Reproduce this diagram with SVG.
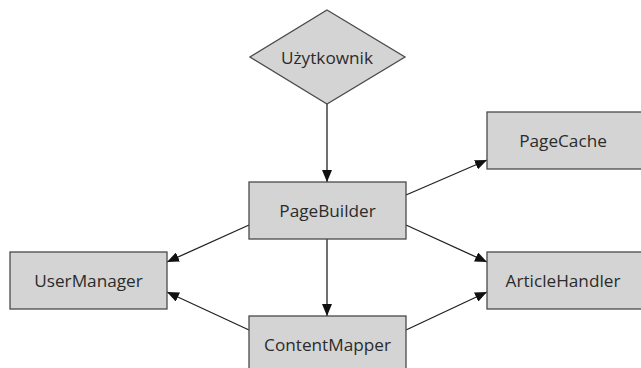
<svg xmlns="http://www.w3.org/2000/svg" width="641" height="368" viewBox="0 0 641 368">
  <style>
    .node { fill: #d4d4d4; stroke: #4a4a4a; stroke-width: 1.3; }
    .label { font-family: "Open Sans", "Noto Sans", sans-serif; font-size: 17.2px; fill: #2b2b2b; text-anchor: middle; dominant-baseline: central; }
    .edge { stroke: #222; stroke-width: 1.3; fill: none; marker-end: url(#arrow); }
  </style>
  <defs>
    <marker id="arrow" viewBox="0 0 12 10" refX="12" refY="5" markerWidth="12" markerHeight="10" markerUnits="userSpaceOnUse" orient="auto">
      <path d="M0,0 L12,5 L0,10 Z" fill="#111"/>
    </marker>
  </defs>
  <rect width="641" height="368" fill="#ffffff"/>

  <g id="edges">
    <line class="edge" x1="327" y1="104" x2="327" y2="182"/>
    <line class="edge" x1="249" y1="225" x2="167" y2="262"/>
    <line class="edge" x1="249" y1="330" x2="167" y2="292"/>
    <line class="edge" x1="327" y1="239" x2="327" y2="316"/>
    <line class="edge" x1="406" y1="195" x2="487" y2="160"/>
    <line class="edge" x1="406" y1="225" x2="487" y2="262"/>
    <line class="edge" x1="406" y1="330" x2="487" y2="292"/>
  </g>

  <g id="uzytkownik">
    <polygon class="node" points="327,10 405,57 327,104 250,57"/>
    <text class="label" x="327" y="57">Użytkownik</text>
  </g>
  <g id="pagebuilder">
    <rect class="node" x="249" y="182" width="157" height="57"/>
    <text class="label" x="327.5" y="210.5">PageBuilder</text>
  </g>
  <g id="usermanager">
    <rect class="node" x="10" y="252" width="157" height="57"/>
    <text class="label" x="88.5" y="280.5">UserManager</text>
  </g>
  <g id="contentmapper">
    <rect class="node" x="249" y="316" width="157" height="57"/>
    <text class="label" x="327.5" y="344.5">ContentMapper</text>
  </g>
  <g id="pagecache">
    <rect class="node" x="487" y="112" width="157" height="57"/>
    <text class="label" x="563" y="140.5">PageCache</text>
  </g>
  <g id="articlehandler">
    <rect class="node" x="487" y="252" width="157" height="57"/>
    <text class="label" x="563" y="280.5">ArticleHandler</text>
  </g>
</svg>
